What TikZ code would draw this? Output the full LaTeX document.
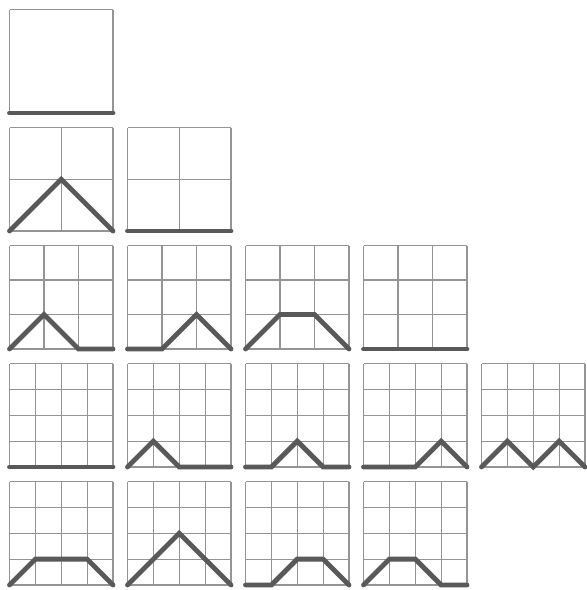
\documentclass[tikz,border=0pt]{standalone}
\usepackage{tikz}
\tikzset{
  gridline/.style={draw=black!42, line width=1.1pt},
  pathline/.style={draw=black!65, line width=4.8pt, line cap=round, line join=miter},
}
\newcommand\mcell[4]{%
  \pgfmathsetmacro\cs{103.5/#3}%
  \begin{scope}[shift={({9.5pt+118pt*#1},{-113pt-118pt*#2})}, x=\cs pt, y=\cs pt]
    \foreach \k in {0,...,#3}{
      \draw[gridline] (\k,0) -- (\k,#3);
      \draw[gridline] (0,\k) -- (#3,\k);
    }
    \draw[pathline] #4;
  \end{scope}}
\begin{document}
\begin{tikzpicture}
\useasboundingbox[fill=white] (0,0) rectangle (587pt,-590pt);
% row 0
\mcell{0}{0}{1}{(0,0)--(1,0)}
% row 1
\mcell{0}{1}{2}{(0,0)--(1,1)--(2,0)}
\mcell{1}{1}{2}{(0,0)--(2,0)}
% row 2
\mcell{0}{2}{3}{(0,0)--(1,1)--(2,0)--(3,0)}
\mcell{1}{2}{3}{(0,0)--(1,0)--(2,1)--(3,0)}
\mcell{2}{2}{3}{(0,0)--(1,1)--(2,1)--(3,0)}
\mcell{3}{2}{3}{(0,0)--(3,0)}
% row 3
\mcell{0}{3}{4}{(0,0)--(4,0)}
\mcell{1}{3}{4}{(0,0)--(1,1)--(2,0)--(4,0)}
\mcell{2}{3}{4}{(0,0)--(1,0)--(2,1)--(3,0)--(4,0)}
\mcell{3}{3}{4}{(0,0)--(2,0)--(3,1)--(4,0)}
\mcell{4}{3}{4}{(0,0)--(1,1)--(2,0)--(3,1)--(4,0)}
% row 4
\mcell{0}{4}{4}{(0,0)--(1,1)--(3,1)--(4,0)}
\mcell{1}{4}{4}{(0,0)--(1,1)--(2,2)--(3,1)--(4,0)}
\mcell{2}{4}{4}{(0,0)--(1,0)--(2,1)--(3,1)--(4,0)}
\mcell{3}{4}{4}{(0,0)--(1,1)--(2,1)--(3,0)--(4,0)}
\end{tikzpicture}
\end{document}
